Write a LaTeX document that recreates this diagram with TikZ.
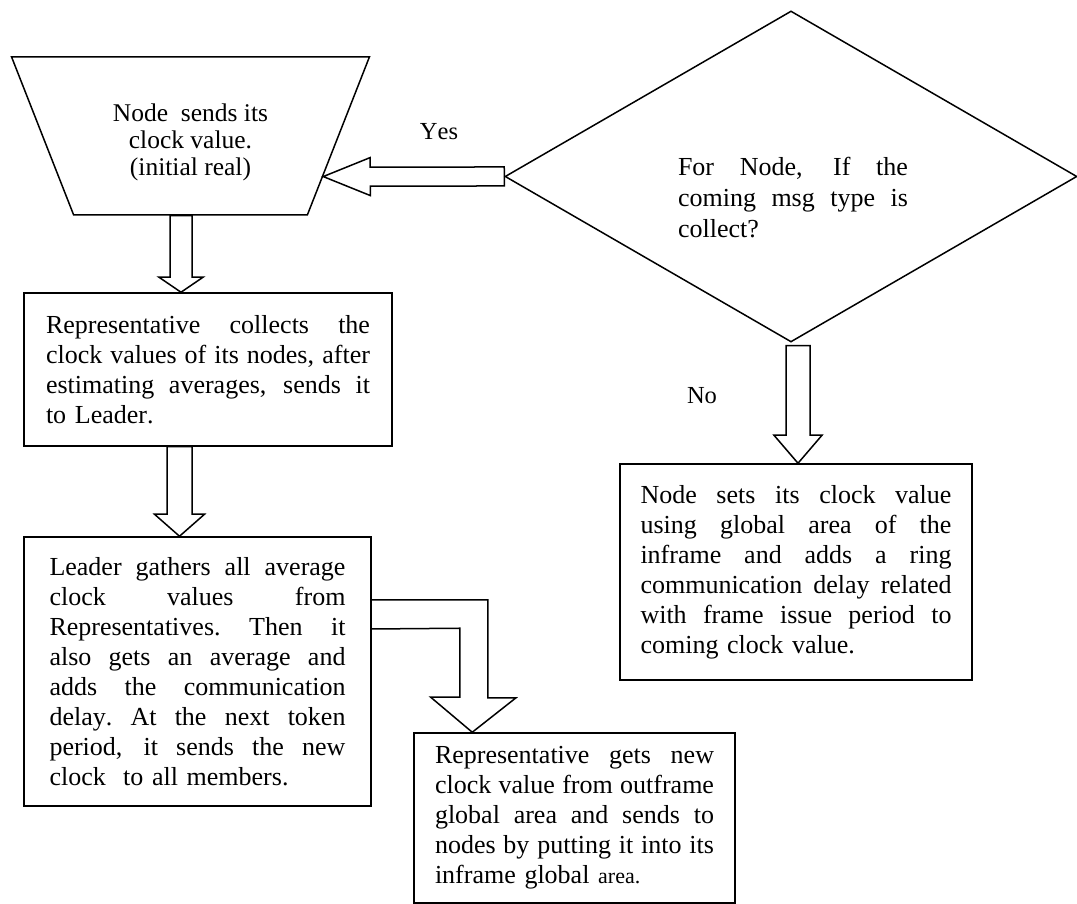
\documentclass[tikz,border=0pt]{standalone}
\usepackage{fontspec}
\setmainfont{Liberation Serif}[Kerning=Off]
\usetikzlibrary{shapes.geometric,calc}

\newlength{\jw}
\newcommand{\jline}[1]{\makebox[\jw][s]{\spaceskip=0.25em plus 1fil minus 0.05em
  \xspaceskip=\spaceskip #1}}

\begin{document}
\begin{tikzpicture}[x=1pt, y=1pt,
  txt/.style={font=\fontsize{26}{30}\selectfont},
  box/.style n args={3}{draw, line width=1.5pt, minimum width=#1, minimum height=#2,
    text width=#3, align=left, inner sep=0pt, txt,
    execute at begin node={\setlength{\jw}{#3}}},
  trap/.style={draw, line width=1.5pt, trapezium, shape border rotate=180,
    trapezium angle=65.5, trapezium stretches=true, minimum width=359pt,
    minimum height=158pt, inner sep=0pt, align=center,
    font=\fontsize{25.5}{27}\selectfont},
  dec/.style={draw, line width=1.5pt, diamond, minimum width=572pt,
    minimum height=331pt, inner sep=0pt},
  blk/.style n args={3}{draw, line width=1.5pt, line join=miter,
    to path={let \p1=(\tikztostart), \p2=(\tikztotarget),
      \n1={atan2(\y2-\y1,\x2-\x1)}, \n2={veclen(\x2-\x1,\y2-\y1)} in
      -- ++(\n1+90:#1) -- ++(\n1:\n2-#3) -- ++(\n1+90:#2-#1) -- (\p2)
      -- ($(\p2)+(\n1+180:#3)+(\n1-90:#2)$) -- ++(\n1+90:#2-#1)
      -- ++(\n1+180:\n2-#3) -- cycle}},
  bent/.style={draw, line width=1.5pt, line join=miter}
]
  \useasboundingbox (0,0) rectangle (1077,904);

  % Steps
  \node[trap] (send) at (190.5,768)
    {\rule{0pt}{31pt}Node\ \ sends its\\clock value.\\(initial real)};
  \node[dec] (ask) at (791,727.5) {};
  \node[txt, text width=230pt, align=left, inner sep=0pt,
    execute at begin node={\setlength{\jw}{230pt}}] (asktxt) at (793,706)
    {\jline{For Node, If the}\\[1pt]\jline{coming msg type is}\\[1pt]collect?};
  \node[box={368pt}{153pt}{324pt}] (rep) at (208,534.5)
    {\rule{0pt}{14pt}\jline{Representative collects the}\\\jline{clock values of its nodes, after}\\
     \jline{estimating averages, sends it}\\to Leader.};
  \node[box={347pt}{269pt}{296pt}] (leader) at (197.5,232.5)
    {\jline{Leader gathers all average}\\\jline{clock values from}\\
     \jline{Representatives. Then it}\\\jline{also gets an average and}\\
     \jline{adds the communication}\\\jline{delay. At the next token}\\
     \jline{period, it sends the new}\\clock\ \ to all members.};
  \node[box={352pt}{216pt}{311pt}] (setclk) at (796,332)
    {\jline{Node sets its clock value}\\\jline{using global area of the}\\
     \jline{inframe and adds a ring}\\\jline{communication delay related}\\
     \jline{with frame issue period to}\\coming clock value.};
  \node[box={321pt}{170pt}{279pt}] (rep2) at (574.5,86)
    {\jline{Representative gets new}\\\jline{clock value from outframe}\\
     \jline{global area and sends to}\\\jline{nodes by putting it into its}\\
     inframe global {\fontsize{22}{30}\selectfont area.}};

  % Labels
  \node[txt, font=\fontsize{24.5}{30}\selectfont] (yes) at (439,772) {Yes};
  \node[txt, font=\fontsize{24.5}{30}\selectfont] (no) at (702,508) {No};

  % Block arrows
  \draw[blk={11}{22}{15}] ($(send.south)+(-9.5,0)$) to ($(rep.north)+(-27,0)$);
  \draw[blk={12.5}{25}{22}] ($(rep.south)+(-28.5,0)$) to ($(leader.north)+(-18,0)$);
  \draw[blk={9.5}{19}{47}] (ask.west) to (send.-17.7);
  \draw[blk={12}{24}{28}] ($(ask.south)+(7,-3)$) to ($(setclk.north)+(2,0)$);
  \draw[bent] ([yshift=71.5pt]leader.east) -- ++(116,0) -- ++(0,-98) -- ++(28,0)
    -- ($(rep2.north west)+(59,0)$) -- ++(-41.5,35) -- ++(29,0) -- ++(0,69)
    -- ([yshift=42.5pt]leader.east);
\end{tikzpicture}
\end{document}
